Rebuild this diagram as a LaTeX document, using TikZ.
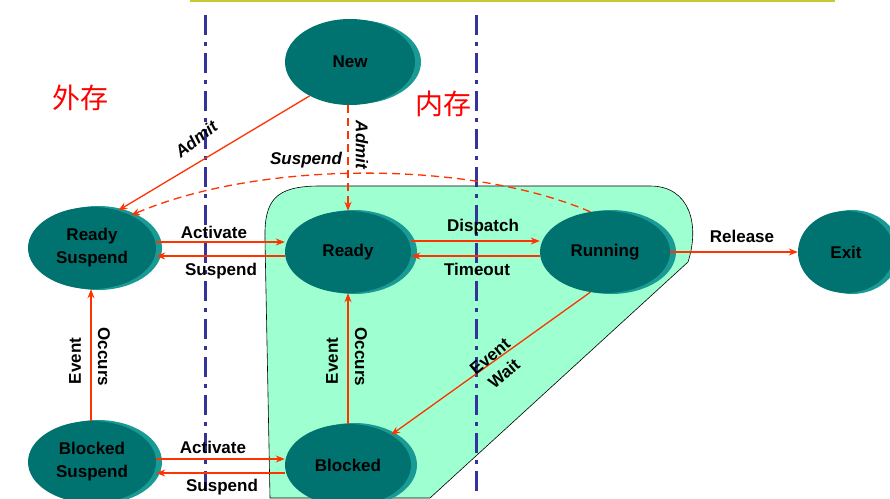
\documentclass[tikz,border=0pt]{standalone}
\usepackage{fontspec}
\setmainfont{Liberation Sans}
\newfontfamily\cjk{Noto Sans CJK SC}
\usetikzlibrary{arrows.meta,shapes.geometric}
\definecolor{teal1}{HTML}{007370}
\definecolor{teal2}{HTML}{1A9A94}
\definecolor{arr}{HTML}{FF3300}
\definecolor{mint}{HTML}{9EFFD0}
\definecolor{vline}{HTML}{333399}
\definecolor{olive}{HTML}{C8C832}
\begin{document}
\begin{tikzpicture}[x=1pt,y=-1pt,
  st/.style={ellipse,fill=teal1,minimum width=128pt,minimum height=82pt,inner sep=0pt,
    font=\fontsize{17}{20}\selectfont\bfseries,align=center},
  a/.style={draw=arr,line width=1.3pt,-{Stealth[length=9pt,width=7pt]}},
  dsh/.style={dash pattern=on 8pt off 5pt},
  lb/.style={font=\fontsize{17}{19}\selectfont\bfseries,inner sep=0pt,align=center},
  li/.style={lb,font=\fontsize{17}{19}\selectfont\bfseries\itshape},
  vl/.style={draw=vline,line width=3pt,dash pattern=on 20pt off 7pt on 4pt off 7pt},
  cj/.style={text=red,font=\cjk\fontsize{28}{30}\selectfont}]
\useasboundingbox (0,0) rectangle (890,498);
\draw[olive,line width=1.5pt] (190,1) -- (835,1);
% memory region
\draw[fill=mint,line width=0.6pt] (270,498) -- (265,240) .. controls (264,200) and (275,186) .. (320,186)
  -- (650,186) .. controls (690,186) and (700,225) .. (688,262) -- (430,498) -- cycle;
\draw[vl] (205,15) -- (205,498);
\draw[vl] (476,15) -- (476,498);
\node[cj] (wc) at (80,98) {外存};
\node[cj] (nc) at (443,104) {内存};
% ellipse rims
\foreach \x/\y/\w in {352/62/130,94/248/128,94/462/128,350/252/126,350/465/126,607/252/130,848/252/96}
  \fill[teal2] (\x+4,\y) ellipse ({\w/2} and 42);
\node[st,minimum width=130pt,minimum height=86pt] (new) at (350,62) {New};
\node[st] (rs) at (92,248) {Ready\\[3pt]Suspend};
\node[st] (bs) at (92,462) {Blocked\\[3pt]Suspend};
\node[st,minimum width=126pt] (rd) at (348,252) {Ready};
\node[st,minimum width=126pt] (bl) at (348,465) {Blocked};
\node[st,minimum width=130pt] (ru) at (605,252) {Running};
\node[st,minimum width=96pt] (ex) at (846,252) {Exit};
% connectors
\draw[a] (new.220) -- (rs.55);
\node[li,rotate=38] (l1) at (196,139) {Admit};
\draw[a,dsh] (new.south -| 348,0) -- (rd.north);
\node[li,rotate=-90] (l2) at (362,145) {Admit};
\draw[a,dsh] (ru.110) .. controls (470,160) and (260,160) .. (rs.40);
\node[li] (l3) at (306,160) {Suspend};
\draw[a] (rs.east |- 0,242) -- (rd.west |- 0,242);
\draw[a] (rd.west |- 0,256) -- (rs.east |- 0,256);
\node[lb] (l4) at (214,232) {Activate};
\node[lb] (l5) at (221,271) {Suspend};
\draw[a] (rd.east |- 0,241) -- (ru.west |- 0,241);
\draw[a] (ru.west |- 0,256) -- (rd.east |- 0,256);
\node[lb] (l6) at (483,227) {Dispatch};
\node[lb] (l7) at (477,269) {Timeout};
\draw[a] (ru.east) -- (ex.west);
\node[lb] (l8) at (742,236) {Release};
\draw[a] (bs.north -| 91,0) -- (rs.south -| 91,0);
\node[lb,rotate=90] (l9) at (75,361) {Event};
\node[lb,rotate=-90] (l10) at (104,357) {Occurs};
\draw[a] (bl.north) -- (rd.south);
\node[lb,rotate=90] (l11) at (332,361) {Event};
\node[lb,rotate=-90] (l12) at (361,357) {Occurs};
\draw[a] (ru.250) -- (bl.35);
\node[lb,rotate=40,font=\fontsize{17}{22}\selectfont\bfseries] (l13) at (497,365) {Event\\Wait};
\draw[a] (bs.east |- 0,459) -- (bl.west |- 0,459);
\draw[a] (bl.west |- 0,473) -- (bs.east |- 0,473);
\node[lb] (l14) at (213,447) {Activate};
\node[lb] (l15) at (222,487) {Suspend};
\end{tikzpicture}
\end{document}
